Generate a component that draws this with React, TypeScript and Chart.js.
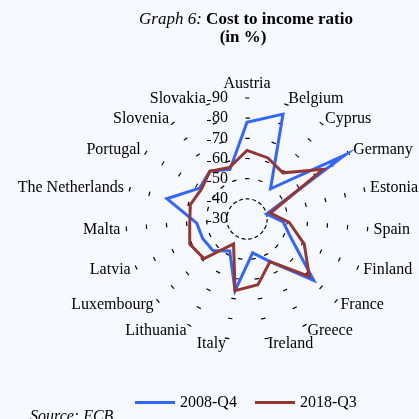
import React, { useEffect, useRef } from 'react';
import { Chart, registerables } from 'chart.js';

Chart.register(...registerables);

// ---- data ----
const categories = [
  'Austria', 'Belgium', 'Cyprus', 'Germany', 'Estonia', 'Spain', 'Finland',
  'France', 'Greece', 'Ireland', 'Italy', 'Lithuania', 'Luxembourg', 'Latvia',
  'Malta', 'The Netherlands', 'Portugal', 'Slovenia', 'Slovakia',
];
const series2008Q4 = [78, 85, 49, 88, 40, 48, 54, 75, 54, 47, 66, 48, 53, 54, 55, 71, 58, 60, 56];
const series2018Q3 = [64, 62, 59, 75, 42, 51, 61, 72, 54, 63, 66, 44, 59, 61, 58.5, 59, 57, 60, 57];
const seriesNames = ['2008-Q4', '2018-Q3'];
const seriesValues = [series2008Q4, series2018Q3];
const seriesColors = ['#3366ff', '#943634'];
const axisMin = 30;
const axisMax = 90;
const axisStep = 10;

const BG = '#f6fafe';
const SERIF = '"Liberation Serif", "Times New Roman", serif';
const FONT_PX = 16;

function ringRadius(c: any): number {
  const s = c.chart.scales.r;
  return s.getDistanceFromCenterForValue(c.tick.value);
}

const DASH_LEN = 4.5;

const ringDash = (c: any) => {
  if (!c || !c.tick) return [];
  const r = ringRadius(c);
  const P = (2 * Math.PI * r) / categories.length;
  const d = Math.min(DASH_LEN, P * 0.6);
  return [d, P - d];
};

const ringDashOffset = (c: any) => {
  if (!c || !c.tick) return 0;
  const r = ringRadius(c);
  const P = (2 * Math.PI * r) / categories.length;
  const d = Math.min(DASH_LEN, P * 0.6);
  const step = (2 * Math.PI) / categories.length;
  let a = (-Math.PI / 2) % step;
  while (a < 0) a += step;
  return d / 2 - r * a;
};

const labelPlugin = {
  id: 'radarTextLabels',
  afterDraw(chart: any) {
    const scale = chart.scales.r;
    const ctx = chart.ctx;
    ctx.save();
    ctx.font = `${FONT_PX}px ${SERIF}`;
    ctx.fillStyle = '#000';
    const labels: string[] = chart.data.labels;
    labels.forEach((label, i) => {
      const p = scale.getPointPosition(i, scale.drawingArea + 6);
      let deg = (scale.getIndexAngle(i) * 180) / Math.PI;
      deg = ((deg % 360) + 360) % 360;
      let align: CanvasTextAlign = 'left';
      let base: CanvasTextBaseline = 'middle';
      if (deg < 0.5 || deg > 359.5) {
        align = 'center';
        base = 'bottom';
      } else if (Math.abs(deg - 180) < 0.5) {
        align = 'center';
        base = 'top';
      } else if (deg < 180) {
        align = 'left';
      } else {
        align = 'right';
      }
      ctx.textAlign = align;
      ctx.textBaseline = base;
      ctx.fillText(label, p.x, p.y);
    });
    // value axis labels, left of the vertical spoke
    ctx.textAlign = 'right';
    ctx.textBaseline = 'middle';
    ctx.strokeStyle = '#000';
    ctx.lineWidth = 1;
    scale.ticks.forEach((t: any) => {
      const y = scale.yCenter - scale.getDistanceFromCenterForValue(t.value);
      const xr = scale.xCenter - 19;
      const text = String(t.value);
      const w = ctx.measureText(text).width;
      ctx.fillText(text, xr, y);
      ctx.beginPath();
      ctx.moveTo(xr - w - 5, Math.round(y + 2) + 0.5);
      ctx.lineTo(xr - w - 1, Math.round(y + 2) + 0.5);
      ctx.stroke();
    });
    ctx.restore();
  },
};

export default function App() {
  const ref = useRef<HTMLCanvasElement>(null);

  useEffect(() => {
    if (!ref.current) return;
    const chart = new Chart(ref.current, {
      type: 'radar',
      data: {
        labels: categories,
        datasets: seriesNames.map((name, i) => ({
          label: name,
          data: seriesValues[i],
          borderColor: seriesColors[i],
          backgroundColor: 'transparent',
          borderWidth: 3,
          pointRadius: 0,
          pointHoverRadius: 0,
          fill: false,
          tension: 0,
          order: i === 0 ? 1 : 0,
        })),
      },
      options: {
        responsive: false,
        animation: false,
        devicePixelRatio: 1,
        layout: { padding: { left: 126, right: 51, top: 98, bottom: 79 } },
        plugins: {
          legend: { display: false },
          title: { display: false },
          tooltip: { enabled: false },
        },
        scales: {
          r: {
            min: axisMin,
            max: axisMax,
            ticks: { display: false, stepSize: axisStep },
            grid: { circular: true, color: '#000', lineWidth: 1.2 },
            border: { dash: ringDash as any, dashOffset: ringDashOffset as any },
            angleLines: { display: false },
            pointLabels: { display: false },
          },
        },
      },
      plugins: [labelPlugin],
    });
    return () => chart.destroy();
  }, []);

  return (
    <div
      style={{
        position: 'fixed',
        left: 0,
        top: 0,
        width: 419,
        height: 419,
        background: BG,
        overflow: 'hidden',
        fontFamily: SERIF,
        color: '#000',
        fontSize: FONT_PX,
      }}
    >
      <canvas
        ref={ref}
        width={419}
        height={419}
        style={{ position: 'absolute', left: 0, top: 0, width: 419, height: 419 }}
      />
      <div
        style={{
          position: 'absolute',
          top: 10,
          left: 246,
          transform: 'translateX(-50%)',
          whiteSpace: 'nowrap',
          lineHeight: '18px',
          fontSize: 17,
        }}
      >
        <i>Graph 6:</i> <b>Cost to income ratio</b>
      </div>
      <div
        style={{
          position: 'absolute',
          top: 28,
          left: 243,
          transform: 'translateX(-50%)',
          whiteSpace: 'nowrap',
          lineHeight: '18px',
          fontSize: 17,
        }}
      >
        <b>(in %)</b>
      </div>
      <div
        style={{
          position: 'absolute',
          top: 393,
          left: 135,
          height: 18,
          display: 'flex',
          alignItems: 'center',
          whiteSpace: 'nowrap',
          lineHeight: '18px',
        }}
      >
        {seriesNames.map((name, i) => (
          <div key={name} style={{ display: 'flex', alignItems: 'center', marginRight: 18 }}>
            <span
              style={{
                display: 'inline-block',
                width: 40,
                height: 3,
                background: seriesColors[i],
                marginRight: 5,
              }}
            />
            <span>{name}</span>
          </div>
        ))}
      </div>
      <div
        style={{
          position: 'absolute',
          top: 407,
          left: 30,
          whiteSpace: 'nowrap',
          lineHeight: '18px',
          fontStyle: 'italic',
        }}
      >
        Source: ECB
      </div>
    </div>
  );
}
